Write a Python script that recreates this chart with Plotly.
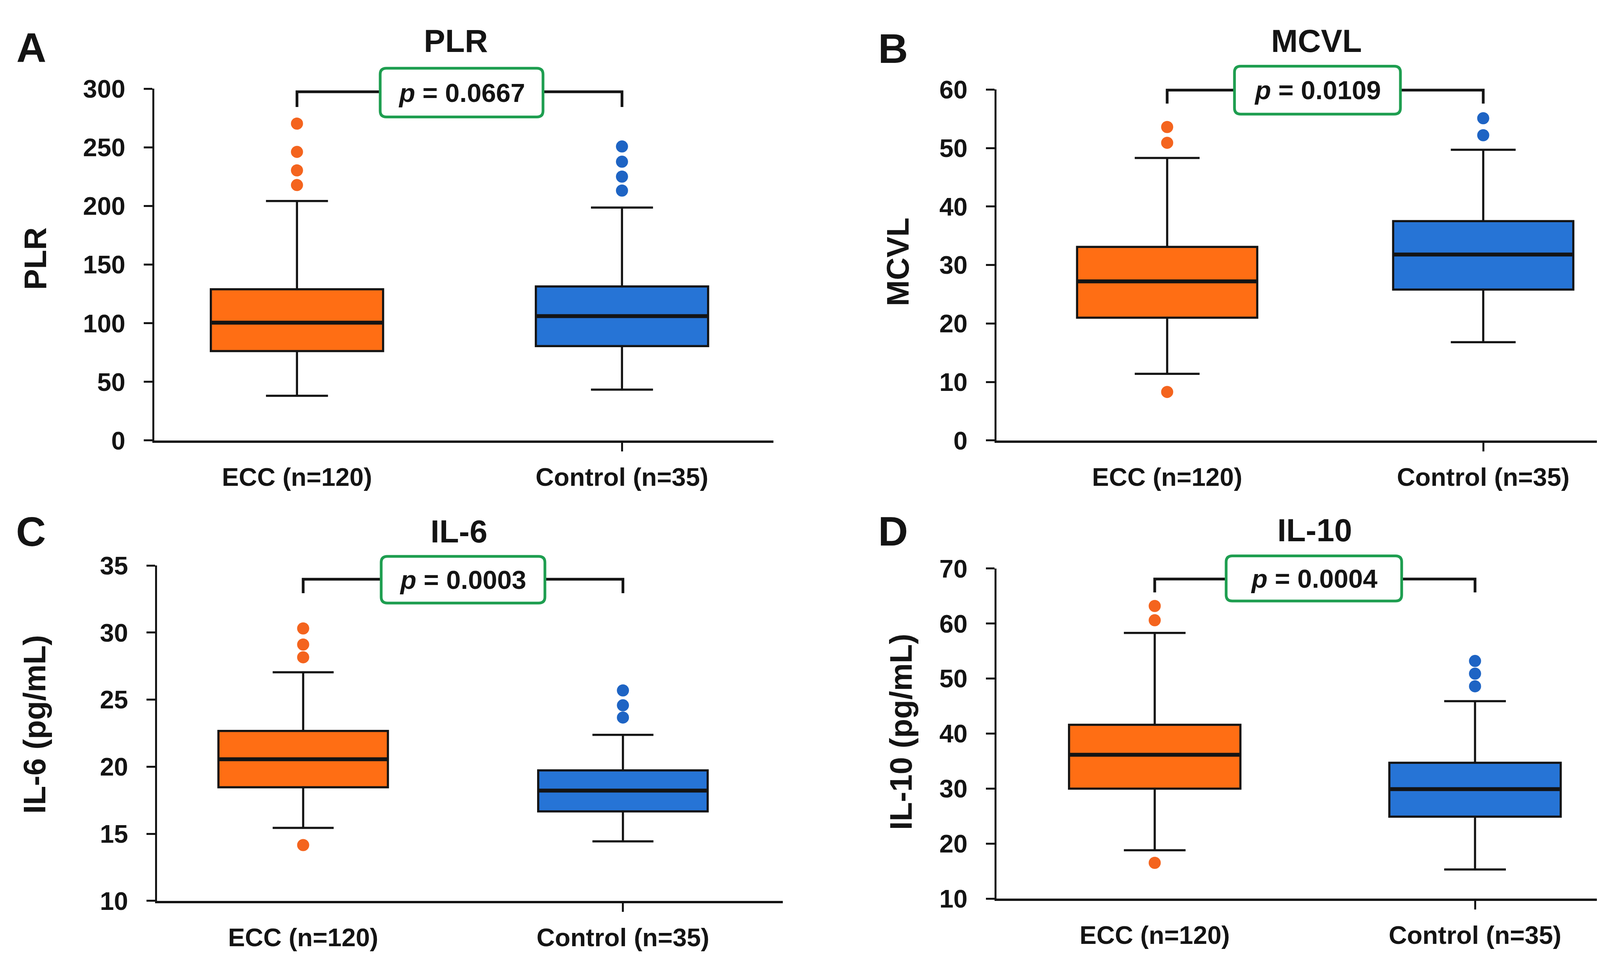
import plotly.graph_objects as go

# ---------------- data ----------------
categories = ["ECC (n=120)", "Control (n=35)"]
panel_titles = ["PLR", "MCVL", "IL-6", "IL-10"]
y_titles = ["PLR", "MCVL", "IL-6 (pg/mL)", "IL-10 (pg/mL)"]
panel_letters = ["A", "B", "C", "D"]
p_values = ["0.0667", "0.0109", "0.0003", "0.0004"]

plr_ticks = [0, 50, 100, 150, 200, 250, 300]
plr_lower = [38.1, 43.4]
plr_q1 = [76.3, 80.5]
plr_median = [100.5, 106.1]
plr_q3 = [129.0, 131.4]
plr_upper = [204.3, 198.7]
plr_out_ecc = [217.9, 230.4, 246.2, 270.3]
plr_out_control = [213.2, 225.1, 237.8, 250.8]

mcvl_ticks = [0, 10, 20, 30, 40, 50, 60]
mcvl_lower = [11.4, 16.8]
mcvl_q1 = [21.0, 25.8]
mcvl_median = [27.2, 31.8]
mcvl_q3 = [33.1, 37.5]
mcvl_upper = [48.3, 49.7]
mcvl_out_ecc = [8.3, 50.9, 53.6]
mcvl_out_control = [52.2, 55.1]

il6_ticks = [10, 15, 20, 25, 30, 35]
il6_lower = [15.44, 14.44]
il6_q1 = [18.47, 16.67]
il6_median = [20.56, 18.22]
il6_q3 = [22.67, 19.73]
il6_upper = [27.04, 22.38]
il6_out_ecc = [14.16, 28.16, 29.11, 30.31]
il6_out_control = [23.67, 24.58, 25.69]

il10_ticks = [10, 20, 30, 40, 50, 60, 70]
il10_lower = [18.8, 15.3]
il10_q1 = [30.0, 24.9]
il10_median = [36.15, 29.9]
il10_q3 = [41.6, 34.7]
il10_upper = [58.3, 45.9]
il10_out_ecc = [16.5, 60.6, 63.2]
il10_out_control = [48.6, 50.9, 53.2]

# ---------------- styles / layout constants ----------------
FIG_W, FIG_H = 4264, 2466
FONT = "Liberation Sans, Arial, sans-serif"
INK = "#141414"
BOX_FILL = ["#FF6E14", "#2674D6"]
DOT_COL = ["#F4641E", "#1E64C4"]
GREEN = "#1E9E50"

panels = [
    dict(xdom=(387, 1972), ydom=(189, 1117), xr=(-0.439, 1.466), yr=(0, 300),
         bw=0.53, br_y=297.5, leg_y=284.5, pbox=(0.256, 0.757, 276, 317.5),
         title=(1159, 62), letter=(72, 80), ytitle=(82, 637)),
    dict(xdom=(2543, 4226), ydom=(191, 1117), xr=(-0.54, 1.54), yr=(0, 60),
         bw=0.57, br_y=59.9, leg_y=57.6, pbox=(0.213, 0.738, 55.8, 64.0),
         title=(3362, 62), letter=(2278, 82), ytitle=(2291, 646)),
    dict(xdom=(394, 1996), ydom=(1447, 2332), xr=(-0.457, 1.50), yr=(10, 35),
         bw=0.53, br_y=33.98, leg_y=32.94, pbox=(0.244, 0.756, 32.2, 35.68),
         title=(1167, 1357), letter=(71, 1357), ytitle=(81, 1866)),
    dict(xdom=(2543, 4233), ydom=(1455, 2326), xr=(-0.494, 1.567), yr=(10, 70),
         bw=0.535, br_y=68.1, leg_y=65.66, pbox=(0.223, 0.771, 64.1, 72.3),
         title=(3357, 1354), letter=(2278, 1356), ytitle=(2298, 1886)),
]

stats = [
    (plr_ticks, plr_lower, plr_q1, plr_median, plr_q3, plr_upper, [plr_out_ecc, plr_out_control]),
    (mcvl_ticks, mcvl_lower, mcvl_q1, mcvl_median, mcvl_q3, mcvl_upper, [mcvl_out_ecc, mcvl_out_control]),
    (il6_ticks, il6_lower, il6_q1, il6_median, il6_q3, il6_upper, [il6_out_ecc, il6_out_control]),
    (il10_ticks, il10_lower, il10_q1, il10_median, il10_q3, il10_upper, [il10_out_ecc, il10_out_control]),
]

fig = go.Figure()
shapes = []
annotations = []
layout_axes = {}

def px_x(v):
    return v / FIG_W

def px_y(v):
    return 1 - v / FIG_H

for k, (pan, st) in enumerate(zip(panels, stats)):
    ticks, lower, q1, med, q3, upper, outs = st
    sfx = "" if k == 0 else str(k + 1)
    xa, ya = "x" + sfx, "y" + sfx
    bw = pan["bw"]

    for i in range(2):
        fig.add_trace(go.Box(
            x=[i], q1=[q1[i]], median=[med[i]], q3=[q3[i]],
            lowerfence=[lower[i]], upperfence=[upper[i]],
            width=bw, whiskerwidth=0.36, fillcolor=BOX_FILL[i],
            line=dict(color=INK, width=5.5), boxpoints=False,
            xaxis=xa, yaxis=ya, showlegend=False, hoverinfo="skip"))
        fig.add_trace(go.Scatter(
            x=[i - bw / 2, i + bw / 2], y=[med[i], med[i]], mode="lines",
            line=dict(color=INK, width=10), xaxis=xa, yaxis=ya,
            showlegend=False, hoverinfo="skip"))
        fig.add_trace(go.Scatter(
            x=[i] * len(outs[i]), y=outs[i], mode="markers",
            marker=dict(color=DOT_COL[i], size=31), xaxis=xa, yaxis=ya,
            showlegend=False, hoverinfo="skip", cliponaxis=False))

    xr0, xr1 = pan["xr"]
    yr0, yr1 = pan["yr"]
    dxf = lambda v: (v - xr0) / (xr1 - xr0)
    dyf = lambda v: (v - yr0) / (yr1 - yr0)
    wpx = pan["xdom"][1] - pan["xdom"][0]
    hpx = pan["ydom"][1] - pan["ydom"][0]

    layout_axes["xaxis" + sfx] = dict(
        domain=[px_x(pan["xdom"][0]), px_x(pan["xdom"][1])], range=list(pan["xr"]),
        anchor=ya, showline=True, linewidth=6, linecolor=INK, showgrid=False,
        zeroline=False, tickmode="array", tickvals=[0, 1], ticktext=categories,
        ticks="", ticklabelstandoff=32,
        tickfont=dict(family=FONT, size=65, color=INK, weight="bold"),
        minor=dict(tickmode="array", tickvals=[1], ticks="outside", ticklen=22,
                   tickwidth=5, tickcolor=INK, showgrid=False),
        fixedrange=True)
    layout_axes["yaxis" + sfx] = dict(
        domain=[px_y(pan["ydom"][1]), px_y(pan["ydom"][0])], range=list(pan["yr"]),
        anchor=xa, showline=True, linewidth=5, linecolor=INK, showgrid=False,
        zeroline=False, tickmode="array", tickvals=ticks, ticks="outside",
        ticklen=22, tickwidth=5, tickcolor=INK, ticklabelstandoff=34,
        tickfont=dict(family=FONT, size=65, color=INK, weight="bold"),
        fixedrange=True)

    xd, yd = xa + " domain", ya + " domain"
    # significance bracket
    shapes.append(dict(
        type="path", xref=xd, yref=yd,
        path=(f"M {dxf(0)},{dyf(pan['leg_y'])} L {dxf(0)},{dyf(pan['br_y'])} "
              f"L {dxf(1)},{dyf(pan['br_y'])} L {dxf(1)},{dyf(pan['leg_y'])}"),
        line=dict(color=INK, width=7), layer="above"))
    # rounded p-value box
    bx0, bx1, by0, by1 = pan["pbox"]
    x0, x1, y0, y1 = dxf(bx0), dxf(bx1), dyf(by0), dyf(by1)
    rx, ry = 16 / wpx, 16 / hpx
    path = (f"M {x0+rx},{y0} L {x1-rx},{y0} Q {x1},{y0} {x1},{y0+ry} "
            f"L {x1},{y1-ry} Q {x1},{y1} {x1-rx},{y1} L {x0+rx},{y1} "
            f"Q {x0},{y1} {x0},{y1-ry} L {x0},{y0+ry} Q {x0},{y0} {x0+rx},{y0} Z")
    shapes.append(dict(type="path", xref=xd, yref=yd, path=path,
                       fillcolor="white", line=dict(color=GREEN, width=7), layer="above"))
    annotations.append(dict(
        xref=xd, yref=yd, x=(x0 + x1) / 2, y=(y0 + y1) / 2,
        text=f"<b><i>p</i> = {p_values[k]}</b>", showarrow=False,
        xanchor="center", yanchor="middle",
        font=dict(family=FONT, size=67, color=INK)))

    # titles / letters / y titles
    annotations.append(dict(
        xref="paper", yref="paper", x=px_x(pan["title"][0]), y=px_y(pan["title"][1]),
        text=f"<b>{panel_titles[k]}</b>", showarrow=False, xanchor="center",
        yanchor="middle", font=dict(family=FONT, size=82, color=INK)))
    annotations.append(dict(
        xref="paper", yref="paper", x=px_x(pan["letter"][0]), y=px_y(pan["letter"][1]),
        text=f"<b>{panel_letters[k]}</b>", showarrow=False, xanchor="center",
        yanchor="middle", font=dict(family=FONT, size=106, color=INK)))
    annotations.append(dict(
        xref="paper", yref="paper", x=px_x(pan["ytitle"][0]), y=px_y(pan["ytitle"][1]),
        text=f"<b>{y_titles[k]}</b>", showarrow=False, xanchor="center",
        yanchor="middle", textangle=-90, font=dict(family=FONT, size=80, color=INK)))

fig.update_layout(
    width=FIG_W, height=FIG_H, margin=dict(l=0, r=0, t=0, b=0),
    paper_bgcolor="white", plot_bgcolor="white", boxmode="overlay",
    shapes=shapes, annotations=annotations, showlegend=False,
    **layout_axes)

fig.write_html("out.html")
